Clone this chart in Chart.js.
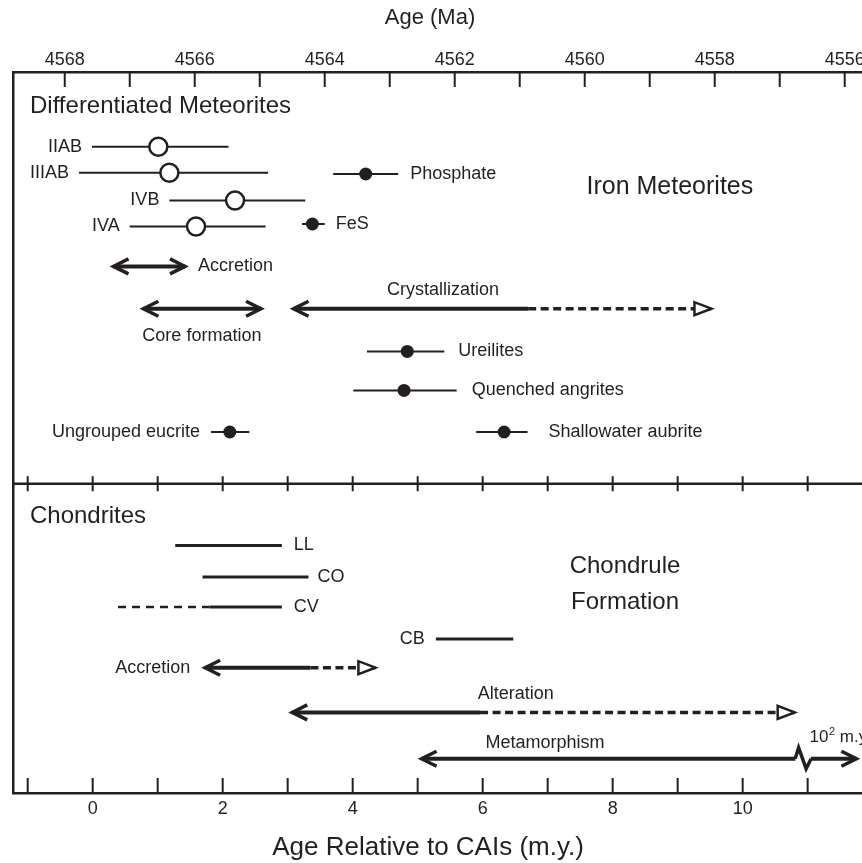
<!DOCTYPE html>
<html><head><meta charset="utf-8">
<script src="https://cdn.jsdelivr.net/npm/chart.js@4"></script>
<style>html,body{margin:0;padding:0;background:#fff;overflow:hidden}canvas{display:block}</style>
</head><body>
<canvas id="c" width="862" height="863"></canvas>
<script>
const INK = '#231f20';
const FONT = '"Liberation Sans", Arial, Helvetica, sans-serif';
const CAI_AGE = 4567.57;            // Ma at 0 m.y. after CAIs

// ---- axis ticks ----
const relTicks = [-1, 0, 1, 2, 3, 4, 5, 6, 7, 8, 9, 10, 11];
const relTickLabels = ['', '0', '', '2', '', '4', '', '6', '', '8', '', '10', ''];
const ageTicks = [4568, 4567, 4566, 4565, 4564, 4563, 4562, 4561, 4560, 4559, 4558, 4557, 4556];
const ageTickLabels = ['4568', '', '4566', '', '4564', '', '4562', '', '4560', '', '4558', '', '4556'];
const topTitle = 'Age (Ma)';
const bottomTitle = 'Age Relative to CAIs (m.y.)';

// ---- iron meteorite groups (open circles) ----
const ironGroups = ['IIAB', 'IIIAB', 'IVB', 'IVA'];
const ironMid = [1.01, 1.18, 2.19, 1.59];
const ironLo = [-0.01, -0.21, 1.18, 0.57];
const ironHi = [2.09, 2.70, 3.27, 2.66];
const ironRow = [7.47, 10.07, 12.84, 15.44];

// ---- other differentiated ages (filled dots) ----
const dotNames = ['Phosphate', 'FeS', 'Ureilites', 'Quenched angrites', 'Ungrouped eucrite', 'Shallowater aubrite'];
const dotMid = [4.20, 3.38, 4.84, 4.79, 2.11, 6.33];
const dotLo = [3.70, 3.22, 4.22, 4.01, 1.82, 5.90];
const dotHi = [4.70, 3.57, 5.41, 5.60, 2.41, 6.69];
const dotRow = [10.2, 15.2, 27.94, 31.84, 36.0, 36.0];

// ---- chondrule formation intervals ----
const chondNames = ['LL', 'CO', 'CV', 'CB'];
const chondLo = [1.27, 1.69, 1.80, 5.28];
const chondHi = [2.91, 3.32, 2.91, 6.47];
const chondRow = [47.34, 50.5, 53.5, 56.7];
const cvUncertainLo = 0.39;

// ---- processes (arrows) ----
const procNames = ['Accretion', 'Core formation', 'Crystallization', 'Accretion', 'Alteration', 'Metamorphism'];
const procStart = [0.32, 0.78, 3.09, 1.73, 3.07, 5.06];
const procCertainEnd = [1.42, 2.59, 6.70, 3.35, 5.96, 11.75];
const procEnd = [1.42, 2.59, 9.52, 4.35, 10.80, 11.75];
const procRow = [19.44, 23.67, 23.67, 59.57, 64.04, 68.67];
const metamorphismBreak = 10.93;   // scale break to 10^2 m.y.

const panelDivider = 41.17;
const X_MIN = -1.226, X_MAX = 11.836, ROW_MAX = 72.1;

// ---- label placement (style) ----
const ironLabelGap = 10;
const dotLabelGap = [12, 11, 14, 15, -11, 21];   // negative = label on left
const chondLabelGap = [12, 9, 12, -11];
const notes = [
  {t: 'Differentiated Meteorites', x: -0.965, y: 3.47, a: 'left', s: 24},
  {t: 'Iron Meteorites', x: 8.88, y: 11.47, a: 'center', s: 25},
  {t: 'Accretion', x: 1.62, y: 19.37, a: 'left', s: 18},
  {t: 'Crystallization', x: 5.39, y: 21.77, a: 'center', s: 18},
  {t: 'Core formation', x: 1.68, y: 26.37, a: 'center', s: 18},
  {t: 'Chondrites', x: -0.965, y: 44.47, a: 'left', s: 24},
  {t: 'Chondrule', x: 8.19, y: 49.47, a: 'center', s: 24},
  {t: 'Formation', x: 8.19, y: 53.07, a: 'center', s: 24},
  {t: 'Accretion', x: 1.50, y: 59.57, a: 'right', s: 18},
  {t: 'Alteration', x: 6.51, y: 62.17, a: 'center', s: 18},
  {t: 'Metamorphism', x: 6.96, y: 67.07, a: 'center', s: 18}
];

// ---- datasets ----
function seg(a, b, row, w, dash) {
  return {data: [{x: a, y: row}, {x: b, y: row}], showLine: true, borderColor: INK, borderWidth: w,
          borderDash: dash || [], borderCapStyle: 'butt', pointRadius: 0, pointHoverRadius: 0, fill: false, tension: 0};
}
const datasets = [];
datasets.push({data: ironGroups.map((g, i) => ({x: ironMid[i], y: ironRow[i]})), showLine: false,
  pointRadius: 9, pointBackgroundColor: '#fff', pointBorderColor: INK, pointBorderWidth: 2.5});
datasets.push({data: dotNames.map((g, i) => ({x: dotMid[i], y: dotRow[i]})), showLine: false,
  pointRadius: 6.5, pointBackgroundColor: INK, pointBorderColor: INK, pointBorderWidth: 0});
ironGroups.forEach((g, i) => datasets.push(seg(ironLo[i], ironHi[i], ironRow[i], 2)));
dotNames.forEach((g, i) => datasets.push(seg(dotLo[i], dotHi[i], dotRow[i], 2)));
chondNames.forEach((g, i) => datasets.push(seg(chondLo[i], chondHi[i], chondRow[i], 3)));
datasets.push(seg(cvUncertainLo, chondLo[2], chondRow[2], 2.5, [8, 6]));
procNames.forEach((p, i) => {
  if (p === 'Metamorphism') {
    datasets.push(seg(procStart[i], metamorphismBreak - 0.12, procRow[i], 4));
    datasets.push(seg(metamorphismBreak + 0.12, procCertainEnd[i], procRow[i], 4));
  } else {
    datasets.push(seg(procStart[i], procCertainEnd[i], procRow[i], 4));
    if (procEnd[i] > procCertainEnd[i]) datasets.push(seg(procCertainEnd[i], procEnd[i], procRow[i], 3.5, [8, 4.5]));
  }
});

// ---- decorations drawn through the scales ----
const decor = {
  id: 'decor',
  afterDatasetsDraw(chart) {
    const {ctx, chartArea: ca, scales} = chart;
    const x = scales.x, x2 = scales.x2, y = scales.y;
    const line = (a, b, c, d) => { ctx.beginPath(); ctx.moveTo(a, b); ctx.lineTo(c, d); ctx.stroke(); };
    const text = (t, px, py, size, align) => {
      ctx.font = size + 'px ' + FONT; ctx.textAlign = align; ctx.textBaseline = 'middle'; ctx.fillText(t, px, py);
    };
    ctx.save();
    ctx.strokeStyle = INK; ctx.fillStyle = INK; ctx.lineCap = 'butt';
    const my = y.getPixelForValue(panelDivider);
    // divider
    ctx.lineWidth = 2.5; line(ca.left, my, ca.right, my);
    // ticks
    ctx.lineWidth = 2;
    relTicks.forEach(v => {
      const px = x.getPixelForValue(v);
      if (px < ca.left + 2 || px > ca.right) return;
      line(px, ca.bottom, px, ca.bottom - 15);
      line(px, my - 7.5, px, my + 7.5);
    });
    ageTicks.forEach(a => {
      const px = x2.getPixelForValue(a);
      if (px < ca.left + 2 || px > ca.right) return;
      line(px, ca.top, px, ca.top + 15);
    });
    // axis titles
    text(topTitle, x.getPixelForValue(5.19), x2.top + 18, 22, 'center');
    text(bottomTitle, x.getPixelForValue(5.16), x.bottom - 15, 26, 'center');
    // arrowheads
    const chevron = (tip, py, dir) => {
      ctx.lineWidth = 3.5; ctx.lineJoin = 'miter'; ctx.miterLimit = 10;
      ctx.beginPath(); ctx.moveTo(tip - dir * 15, py - 7.5); ctx.lineTo(tip, py); ctx.lineTo(tip - dir * 15, py + 7.5); ctx.stroke();
    };
    const openHead = (tip, py) => {
      ctx.lineWidth = 2.5; ctx.lineJoin = 'miter';
      ctx.beginPath(); ctx.moveTo(tip, py); ctx.lineTo(tip - 17, py - 6.5); ctx.lineTo(tip - 17, py + 6.5); ctx.closePath();
      ctx.fillStyle = '#fff'; ctx.fill(); ctx.stroke(); ctx.fillStyle = INK;
    };
    procNames.forEach((p, i) => {
      const py = y.getPixelForValue(procRow[i]);
      chevron(x.getPixelForValue(procStart[i]), py, -1);
      if (procEnd[i] > procCertainEnd[i]) openHead(x.getPixelForValue(procEnd[i]), py);
      else chevron(x.getPixelForValue(procEnd[i]), py, 1);
      if (p === 'Metamorphism') {
        const bx = x.getPixelForValue(metamorphismBreak);
        ctx.lineWidth = 3.5; ctx.lineJoin = 'miter';
        ctx.beginPath(); ctx.moveTo(bx - 8, py); ctx.lineTo(bx - 4.5, py - 11); ctx.lineTo(bx + 3, py + 10); ctx.lineTo(bx + 8, py); ctx.stroke();
      }
    });
    // marker labels
    ironGroups.forEach((g, i) => text(g, x.getPixelForValue(ironLo[i]) - ironLabelGap, y.getPixelForValue(ironRow[i]), 18, 'right'));
    dotNames.forEach((g, i) => {
      const gap = dotLabelGap[i];
      if (gap >= 0) text(g, x.getPixelForValue(dotHi[i]) + gap, y.getPixelForValue(dotRow[i]), 18, 'left');
      else text(g, x.getPixelForValue(dotLo[i]) + gap, y.getPixelForValue(dotRow[i]), 18, 'right');
    });
    chondNames.forEach((g, i) => {
      const gap = chondLabelGap[i];
      if (gap >= 0) text(g, x.getPixelForValue(chondHi[i]) + gap, y.getPixelForValue(chondRow[i]), 18, 'left');
      else text(g, x.getPixelForValue(chondLo[i]) + gap, y.getPixelForValue(chondRow[i]), 18, 'right');
    });
    notes.forEach(n => text(n.t, x.getPixelForValue(n.x), y.getPixelForValue(n.y), n.s, n.a));
    // 10^2 m.y. note at scale break
    {
      let px = x.getPixelForValue(11.03); const py = y.getPixelForValue(66.57);
      ctx.font = '17px ' + FONT; ctx.textAlign = 'left'; ctx.textBaseline = 'middle';
      ctx.fillText('10', px, py); px += ctx.measureText('10').width;
      ctx.font = '11px ' + FONT; ctx.fillText('2', px + 0.5, py - 6); px += ctx.measureText('2').width + 0.5;
      ctx.font = '17px ' + FONT; ctx.fillText(' m.y.', px, py);
    }
    ctx.restore();
  }
};

const tickFont = {family: FONT, size: 18};
new Chart(document.getElementById('c'), {
  type: 'scatter',
  data: {datasets},
  options: {
    responsive: false, animation: false, events: [],
    layout: {autoPadding: false, padding: {left: 13, right: 0, top: 0, bottom: 0}},
    plugins: {legend: {display: false}, tooltip: {enabled: false}},
    scales: {
      x: {
        type: 'linear', position: 'bottom', min: X_MIN, max: X_MAX,
        afterBuildTicks: s => { s.ticks = relTicks.map(v => ({value: v})); },
        ticks: {callback: (v, i) => relTickLabels[i], autoSkip: false, maxRotation: 0, minRotation: 0, font: tickFont, color: INK, padding: 5},
        grid: {display: true, drawOnChartArea: false, drawTicks: false, tickLength: 0, color: 'rgba(0,0,0,0)'},
        border: {display: true, width: 2.5, color: INK},
        title: {display: false},
        afterFit: s => { s.height = 70; s.paddingLeft = 0; s.paddingRight = 0; }
      },
      x2: {
        type: 'linear', position: 'top', reverse: true, min: CAI_AGE - X_MAX, max: CAI_AGE - X_MIN,
        afterBuildTicks: s => { s.ticks = ageTicks.map(v => ({value: v})); },
        ticks: {callback: (v, i) => ageTickLabels[i], autoSkip: false, maxRotation: 0, minRotation: 0, font: tickFont, color: INK, padding: 1},
        grid: {display: true, drawOnChartArea: false, drawTicks: false, tickLength: 0, color: 'rgba(0,0,0,0)'},
        border: {display: true, width: 2.5, color: INK},
        title: {display: false},
        afterFit: s => { s.height = 72; s.paddingLeft = 0; s.paddingRight = 0; }
      },
      y: {
        type: 'linear', position: 'left', min: 0, max: ROW_MAX, reverse: true,
        ticks: {display: false},
        grid: {display: true, drawOnChartArea: false, drawTicks: false, tickLength: 0, color: 'rgba(0,0,0,0)'},
        border: {display: true, width: 2.5, color: INK},
        afterFit: s => { s.width = 0; }
      }
    }
  },
  plugins: [decor]
});
</script>
</body></html>
